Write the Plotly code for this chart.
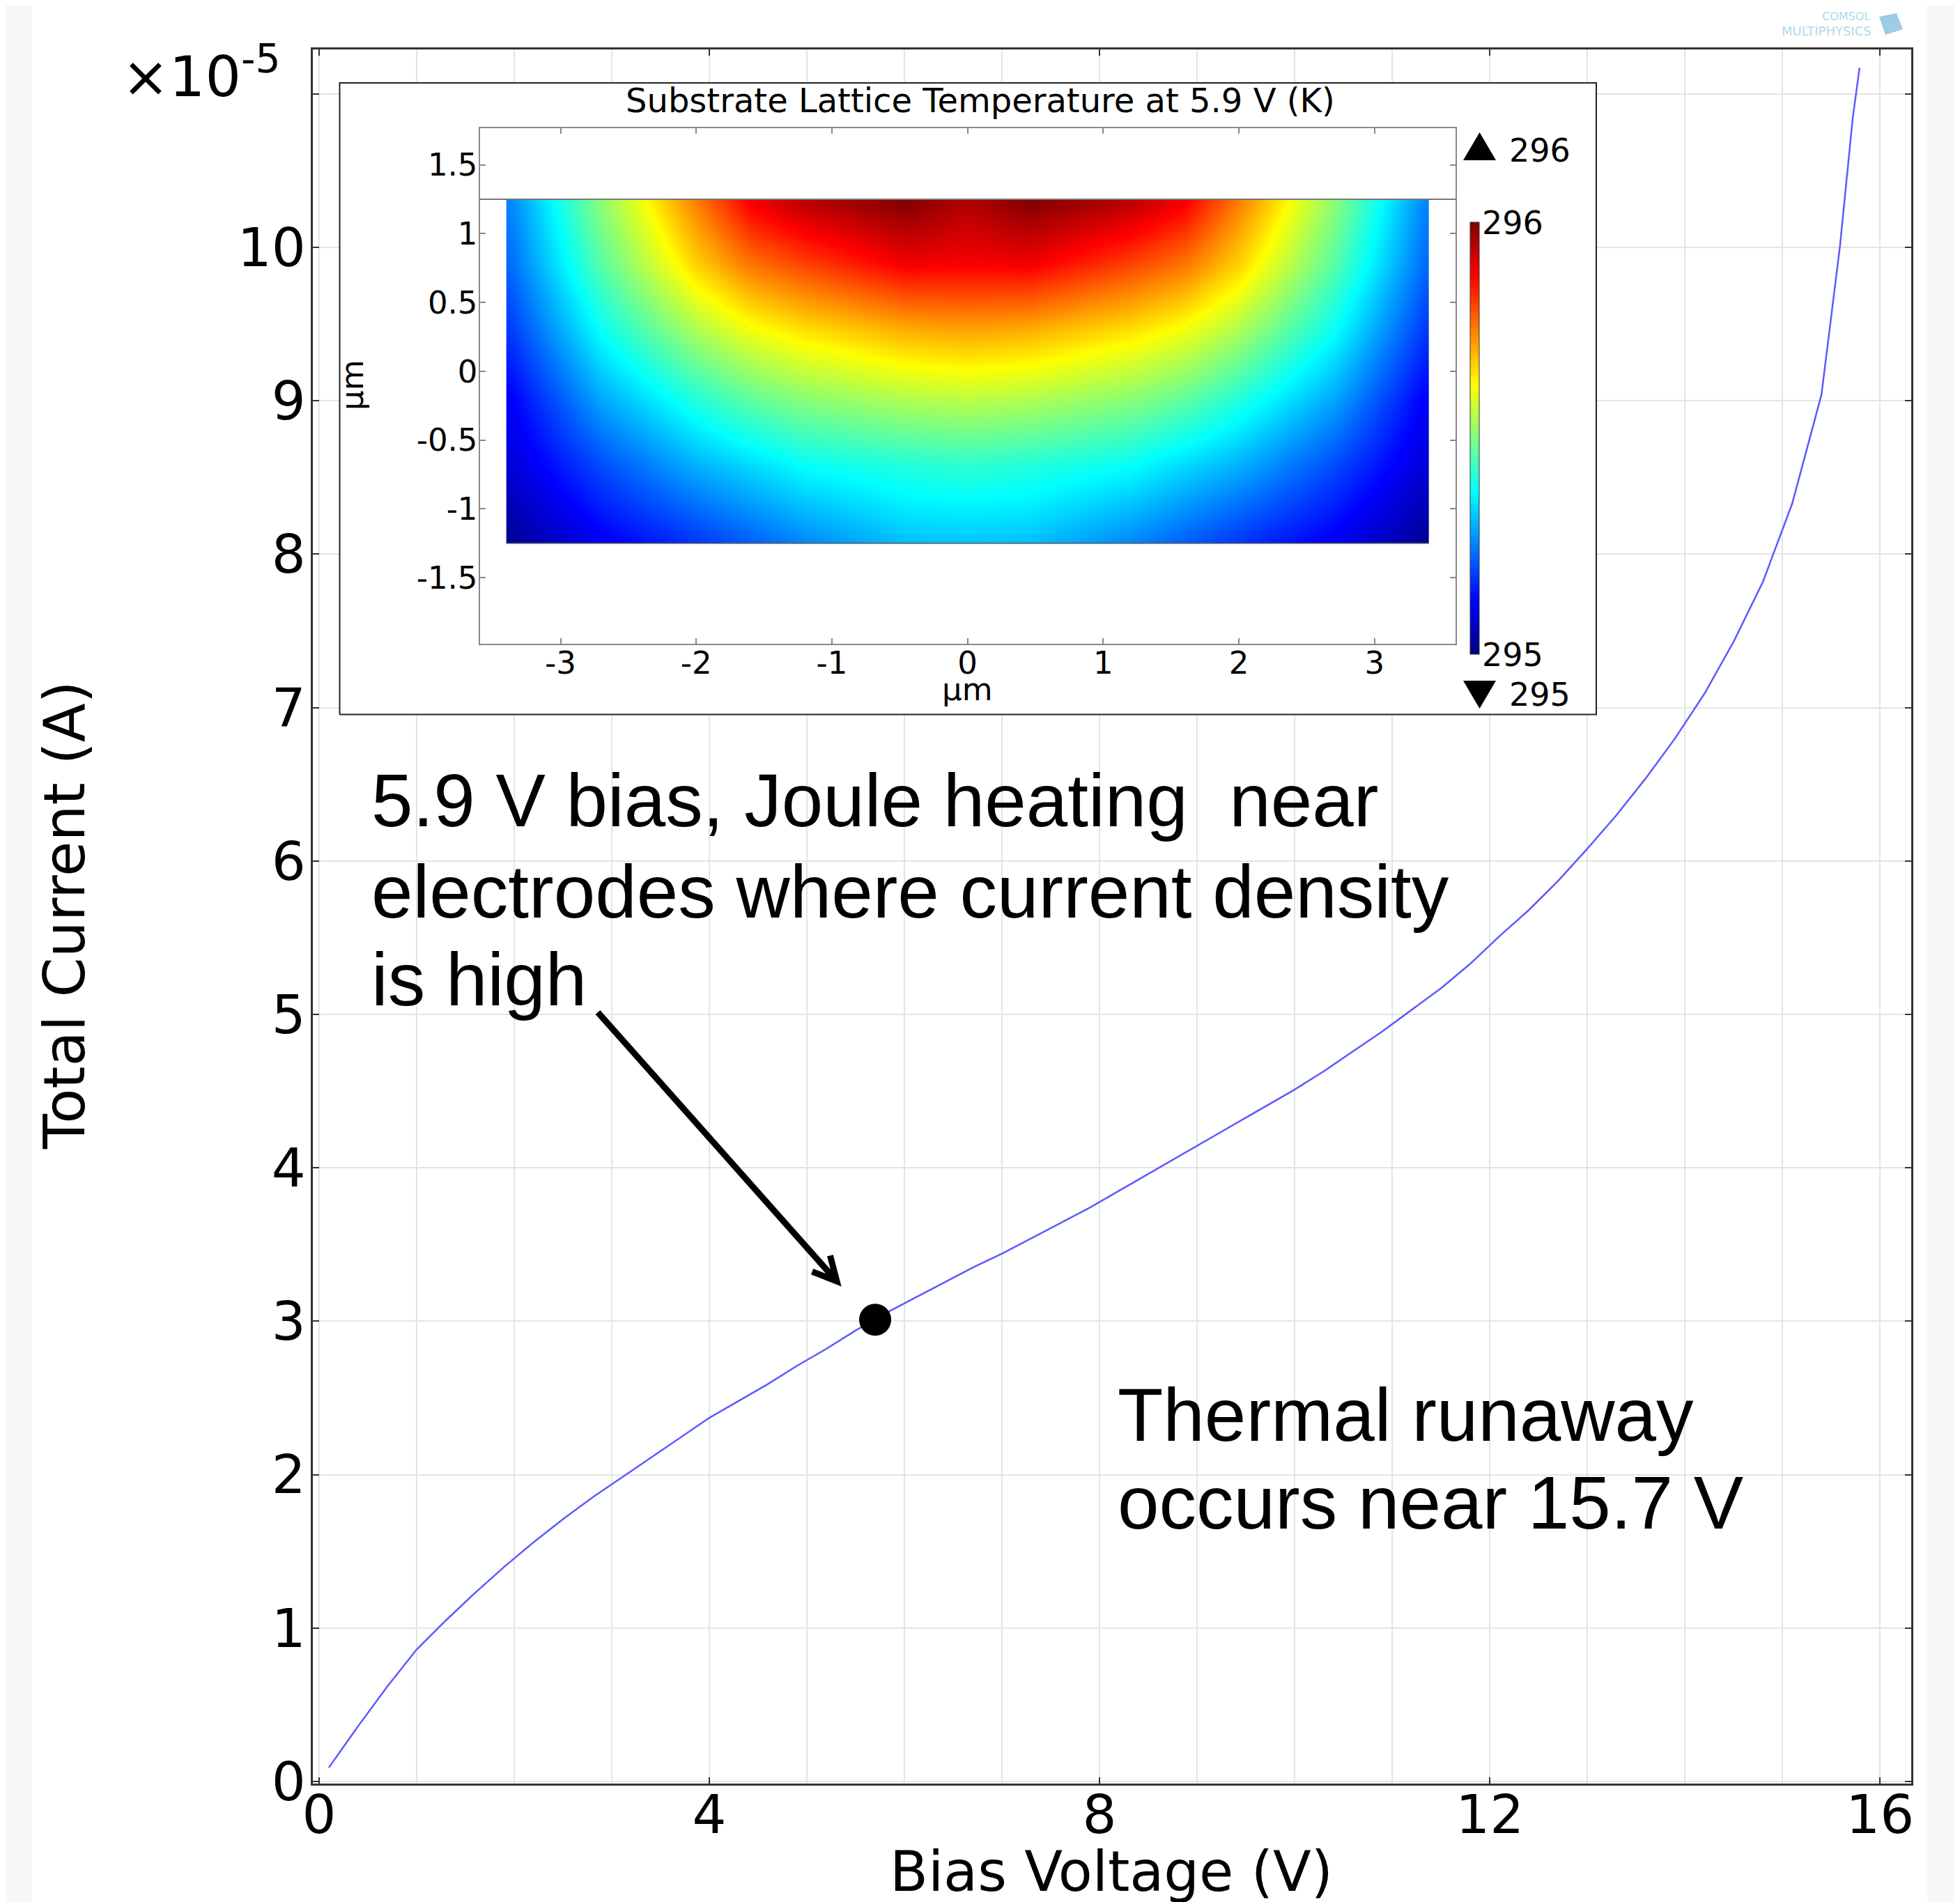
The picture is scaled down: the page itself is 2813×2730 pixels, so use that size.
import math
import plotly.graph_objects as go

# ---------------- data ----------------
bias_voltage_v = [0.1, 0.4, 0.7, 1.0, 1.3, 1.6, 1.9, 2.2, 2.5, 2.8, 3.1, 3.4, 3.7, 4.0,
                  4.3, 4.6, 4.9, 5.2, 5.5, 5.8, 6.1, 6.4, 6.7, 7.0, 7.3, 7.6, 7.9, 8.2,
                  8.5, 8.8, 9.1, 9.4, 9.7, 10.0, 10.3, 10.6, 10.9, 11.2, 11.5, 11.8,
                  12.1, 12.4, 12.7, 13.0, 13.3, 13.6, 13.9, 14.2, 14.5, 14.8, 15.1,
                  15.4, 15.59, 15.72, 15.79]
total_current_1e5_a = [0.09, 0.36, 0.62, 0.86, 1.05, 1.23, 1.40, 1.56, 1.71, 1.85, 1.98,
                       2.11, 2.24, 2.37, 2.48, 2.59, 2.71, 2.82, 2.94, 3.05, 3.15, 3.25,
                       3.35, 3.44, 3.54, 3.64, 3.74, 3.85, 3.96, 4.07, 4.18, 4.29, 4.40,
                       4.51, 4.63, 4.76, 4.89, 5.03, 5.17, 5.33, 5.51, 5.68, 5.87, 6.08,
                       6.30, 6.54, 6.80, 7.09, 7.43, 7.82, 8.33, 9.04, 10.01, 10.84, 11.17]
marker_voltage_v = 5.7
marker_current_1e5_a = 3.01

x_ticks = [0, 4, 8, 12, 16]
y_ticks = [0, 1, 2, 3, 4, 5, 6, 7, 8, 9, 10]
y_extra_tick = [11]

# inset: substrate lattice temperature (K) sampled on a coarse grid
inset_x_um = [-3.385, -3.355, -2.7, -2.0, -1.6, -1.2, -0.45, 0.0, 0.45, 1.2, 1.6, 2.0, 2.7, 3.355, 3.385]
inset_y_um = [-1.235, -1.205, -0.68, -0.2, 0.29, 0.78, 1.22, 1.24]
temp_row_1 = [295.02, 295.025, 295.115, 295.18, 295.22, 295.26, 295.315, 295.32, 295.315, 295.26, 295.22, 295.18, 295.115, 295.025, 295.02]
temp_row_2 = [295.025, 295.03, 295.12, 295.185, 295.225, 295.265, 295.32, 295.325, 295.32, 295.265, 295.225, 295.185, 295.12, 295.03, 295.025]
temp_row_3 = [295.09, 295.09, 295.20, 295.30, 295.34, 295.38, 295.41, 295.42, 295.41, 295.38, 295.34, 295.30, 295.20, 295.09, 295.09]
temp_row_4 = [295.125, 295.125, 295.29, 295.41, 295.47, 295.51, 295.55, 295.56, 295.55, 295.51, 295.47, 295.41, 295.29, 295.125, 295.125]
temp_row_5 = [295.18, 295.185, 295.38, 295.54, 295.61, 295.65, 295.70, 295.71, 295.70, 295.65, 295.61, 295.54, 295.38, 295.185, 295.18]
temp_row_6 = [295.23, 295.235, 295.46, 295.67, 295.76, 295.81, 295.885, 295.88, 295.885, 295.81, 295.76, 295.67, 295.46, 295.235, 295.23]
temp_row_7 = [295.255, 295.26, 295.51, 295.75, 295.88, 295.94, 295.995, 295.95, 295.995, 295.94, 295.88, 295.75, 295.51, 295.26, 295.255]
temp_row_8 = [295.26, 295.265, 295.51, 295.75, 295.88, 295.94, 296.0, 295.95, 296.0, 295.94, 295.88, 295.75, 295.51, 295.265, 295.26]
temperature_k = [temp_row_1, temp_row_2, temp_row_3, temp_row_4,
                 temp_row_5, temp_row_6, temp_row_7, temp_row_8]
temp_min_k, temp_max_k = 295, 296
inset_x_ticks = [-3, -2, -1, 0, 1, 2, 3]
inset_x_tick_text = ["-3", "-2", "-1", "0", "1", "2", "3"]
inset_y_ticks = [-1.5, -1, -0.5, 0, 0.5, 1, 1.5]
inset_y_tick_text = ["-1.5", "-1", "-0.5", "0", "0.5", "1", "1.5"]
domain_top_um = 1.25
domain_bottom_um = -1.25
domain_half_width_um = 3.4

# ---------------- layout geometry (reference pixel positions) ----------------
W, H = 2813, 2730
OFF = 8                       # page body margin of the rendered html
REF_L, REF_T, REF_R, REF_B = 449, 71, 2743, 2560
PW, PH = REF_R - REF_L, REF_B - REF_T
ML, MT = REF_L - OFF, REF_T - OFF
MR, MB = W - ML - PW, H - MT - PH
X_RANGE = [-0.064, 16.32]
Y_RANGE = [-0.014, 11.29]
X2_RANGE = [-3.596, 3.597]
Y2_RANGE = [-1.98, 1.767]


def fx(px):
    return (px - REF_L) / PW


def fy(py):
    return (REF_B - py) / PH


def dx(px):
    return X_RANGE[0] + fx(px) * (X_RANGE[1] - X_RANGE[0])


def dy(py):
    return Y_RANGE[0] + fy(py) * (Y_RANGE[1] - Y_RANGE[0])


jet = [[0.0, "rgb(0,0,128)"], [0.125, "rgb(0,0,255)"], [0.375, "rgb(0,255,255)"],
       [0.625, "rgb(255,255,0)"], [0.875, "rgb(255,0,0)"], [1.0, "rgb(128,0,0)"]]

TICK_FONT = dict(family="DejaVu Sans", size=77, color="black")
INSET_FONT = dict(family="DejaVu Sans", size=45, color="black")
SMALL_FONT = dict(family="DejaVu Sans", size=46, color="black")
NOTE_FONT = dict(family="Liberation Sans", size=107, color="black")
GRID = "#e4e4e4"
AXC = "#333333"

fig = go.Figure()
# inset panel background (covers main grid)
box_x = [dx(487.5), dx(2291), dx(2291), dx(487.5), dx(487.5)]
box_y = [dy(1025.5), dy(1025.5), dy(119), dy(119), dy(1025.5)]
fig.add_trace(go.Scatter(x=box_x, y=box_y, mode="lines", fill="toself", fillcolor="white",
                         line=dict(color="#222", width=2), hoverinfo="skip", showlegend=False))
fig.add_trace(go.Scatter(x=bias_voltage_v, y=total_current_1e5_a, mode="lines",
                         line=dict(color="rgb(90,90,255)", width=2.5),
                         showlegend=False, name="Total current"))
fig.add_trace(go.Scatter(x=[marker_voltage_v], y=[marker_current_1e5_a], mode="markers",
                         marker=dict(size=46, color="black"), showlegend=False))
fig.add_trace(go.Heatmap(
    x=inset_x_um, y=inset_y_um, z=temperature_k, xaxis="x2", yaxis="y2",
    colorscale=jet, zmin=temp_min_k, zmax=temp_max_k, zsmooth="best",
    colorbar=dict(x=fx(2110), xanchor="left", xpad=0, y=fy(629), yanchor="middle", ypad=0,
                  len=(939 - 319) / PH, lenmode="fraction", thickness=13,
                  thicknessmode="pixels", outlinewidth=1, outlinecolor="#333",
                  tickvals=[temp_min_k, temp_max_k], ticks="", showticklabels=False),
))

# arrow (annotation geometry, pixel positions)
tail_px, tip_px = (858, 1453), (1201, 1839)
ux, uy = tip_px[0] - tail_px[0], tip_px[1] - tail_px[1]
nrm = math.hypot(ux, uy)
bx, by = -ux / nrm, -uy / nrm
arms = []
for ang in (math.radians(27), math.radians(-27)):
    ax_ = tip_px[0] + 38 * (math.cos(ang) * bx - math.sin(ang) * by)
    ay_ = tip_px[1] + 38 * (math.sin(ang) * bx + math.cos(ang) * by)
    arms.append((ax_, ay_))
arrow_path = (f"M {dx(tail_px[0])},{dy(tail_px[1])} L {dx(tip_px[0])},{dy(tip_px[1])} "
              f"M {dx(arms[0][0])},{dy(arms[0][1])} L {dx(tip_px[0])},{dy(tip_px[1])} "
              f"L {dx(arms[1][0])},{dy(arms[1][1])}")

shapes = [
    dict(type="rect", xref="paper", yref="paper", x0=fx(46), x1=fx(2766), y0=-0.2, y1=1.2,
         fillcolor="white", line=dict(width=0), layer="below"),
    dict(type="path", xref="x", yref="y", path=arrow_path,
         line=dict(color="black", width=9), layer="above"),
    dict(type="line", xref="x2", yref="y2", x0=X2_RANGE[0], x1=X2_RANGE[1],
         y0=domain_top_um, y1=domain_top_um, line=dict(color="#777", width=2), layer="above"),
    dict(type="line", xref="x2", yref="y2", x0=-domain_half_width_um, x1=domain_half_width_um,
         y0=domain_bottom_um, y1=domain_bottom_um, line=dict(color="#555", width=1.5), layer="above"),
    dict(type="path", xref="paper", yref="paper",
         path=f"M {fx(2100)},{fy(230)} L {fx(2147)},{fy(230)} L {fx(2123.5)},{fy(190)} Z",
         fillcolor="black", line=dict(width=0), layer="above"),
    dict(type="path", xref="paper", yref="paper",
         path=f"M {fx(2100)},{fy(977)} L {fx(2147)},{fy(977)} L {fx(2123.5)},{fy(1017)} Z",
         fillcolor="black", line=dict(width=0), layer="above"),
    dict(type="path", xref="paper", yref="paper",
         path=f"M {fx(2697)},{fy(24)} L {fx(2722)},{fy(19)} L {fx(2731)},{fy(42)} "
              f"L {fx(2706)},{fy(50)} Z",
         fillcolor="rgba(80,160,210,0.55)", line=dict(width=0), layer="above"),
]

annotations = [
    dict(text="×10<sup>-5</sup>", x=fx(404), y=fy(104), xanchor="right", yanchor="middle",
         font=dict(family="DejaVu Sans", size=81, color="black")),
    dict(text="Bias Voltage (V)", x=fx(1595), y=fy(2686), xanchor="center", yanchor="middle",
         font=dict(family="DejaVu Sans", size=80, color="black")),
    dict(text="Total Current (A)", x=fx(92), y=fy(1314), xanchor="center", yanchor="middle",
         textangle=-90, font=dict(family="DejaVu Sans", size=82, color="black")),
    dict(text="Substrate Lattice Temperature at 5.9 V (K)", x=fx(1407), y=fy(144),
         xanchor="center", yanchor="middle", font=dict(family="DejaVu Sans", size=48, color="black")),
    dict(text="µm", x=fx(1388), y=fy(989), xanchor="center", yanchor="middle", font=INSET_FONT),
    dict(text="µm", x=fx(505), y=fy(553), xanchor="center", yanchor="middle", textangle=-90,
         font=INSET_FONT),
    dict(text=str(temp_max_k), x=fx(2125), y=fy(320), xanchor="left", yanchor="middle", font=SMALL_FONT),
    dict(text=str(temp_min_k), x=fx(2125), y=fy(940), xanchor="left", yanchor="middle", font=SMALL_FONT),
    dict(text=str(temp_max_k), x=fx(2164), y=fy(216), xanchor="left", yanchor="middle", font=SMALL_FONT),
    dict(text=str(temp_min_k), x=fx(2164), y=fy(997), xanchor="left", yanchor="middle", font=SMALL_FONT),
    dict(text="5.9 V bias, Joule heating\u00a0 near", x=fx(531), y=fy(1149),
         xanchor="left", yanchor="middle", font=NOTE_FONT),
    dict(text="electrodes where current density", x=fx(531), y=fy(1280),
         xanchor="left", yanchor="middle", font=NOTE_FONT),
    dict(text="is high", x=fx(531), y=fy(1406), xanchor="left", yanchor="middle", font=NOTE_FONT),
    dict(text="Thermal runaway", x=fx(1602), y=fy(2031), xanchor="left", yanchor="middle",
         font=NOTE_FONT),
    dict(text="occurs near 15.7 V", x=fx(1602), y=fy(2157), xanchor="left", yanchor="middle",
         font=NOTE_FONT),
    dict(text="COMSOL", x=fx(2686), y=fy(23), xanchor="right", yanchor="middle",
         font=dict(family="DejaVu Sans", size=16, color="#b3d7ea")),
    dict(text="MULTIPHYSICS", x=fx(2688), y=fy(45), xanchor="right", yanchor="middle",
         font=dict(family="DejaVu Sans", size=18, color="#b3d7ea")),
]
for a in annotations:
    a.update(xref="paper", yref="paper", showarrow=False)

fig.update_layout(
    width=W, height=H, template="none",
    margin=dict(l=ML, r=MR, t=MT, b=MB, pad=0),
    paper_bgcolor="#f7f7f7", plot_bgcolor="white",
    font=dict(family="DejaVu Sans", color="black"),
    showlegend=False,
    xaxis=dict(domain=[0, 1], range=X_RANGE, tickmode="array", tickvals=x_ticks,
               ticks="inside", ticklen=9, tickwidth=2, tickcolor=AXC,
               showline=True, linecolor=AXC, linewidth=2.5, mirror="ticks",
               showgrid=True, gridcolor=GRID, gridwidth=2, zeroline=False,
               minor=dict(tickmode="linear", tick0=0, dtick=1, showgrid=True,
                          gridcolor=GRID, gridwidth=2, ticks=""),
               tickfont=TICK_FONT, ticklabelstandoff=-24, automargin=False),
    yaxis=dict(domain=[0, 1], range=Y_RANGE, tickmode="array", tickvals=y_ticks,
               ticks="inside", ticklen=9, tickwidth=2, tickcolor=AXC,
               showline=True, linecolor=AXC, linewidth=2.5, mirror="ticks",
               showgrid=True, gridcolor=GRID, gridwidth=2, zeroline=False,
               minor=dict(tickmode="array", tickvals=y_extra_tick, showgrid=True,
                          gridcolor=GRID, gridwidth=2, ticks="inside", ticklen=9,
                          tickwidth=2, tickcolor=AXC),
               tickfont=TICK_FONT, ticklabelstandoff=-8, automargin=False),
    xaxis2=dict(domain=[fx(688.5), fx(2089)], range=X2_RANGE, anchor="y2",
                tickmode="array", tickvals=inset_x_ticks, ticktext=inset_x_tick_text,
                ticks="inside", ticklen=8, tickwidth=1.5, tickcolor="#888",
                showline=True, linecolor="#888", linewidth=2, mirror="ticks",
                showgrid=False, zeroline=False, tickfont=INSET_FONT,
                ticklabelstandoff=-13, automargin=False),
    yaxis2=dict(domain=[fy(924), fy(184)], range=Y2_RANGE, anchor="x2",
                tickmode="array", tickvals=inset_y_ticks, ticktext=inset_y_tick_text,
                ticks="inside", ticklen=8, tickwidth=1.5, tickcolor="#888",
                showline=True, linecolor="#888", linewidth=2, mirror="ticks",
                showgrid=False, zeroline=False, tickfont=INSET_FONT,
                ticklabelstandoff=-8, automargin=False),
    shapes=shapes,
    annotations=annotations,
)

fig.write_html("out.html")
